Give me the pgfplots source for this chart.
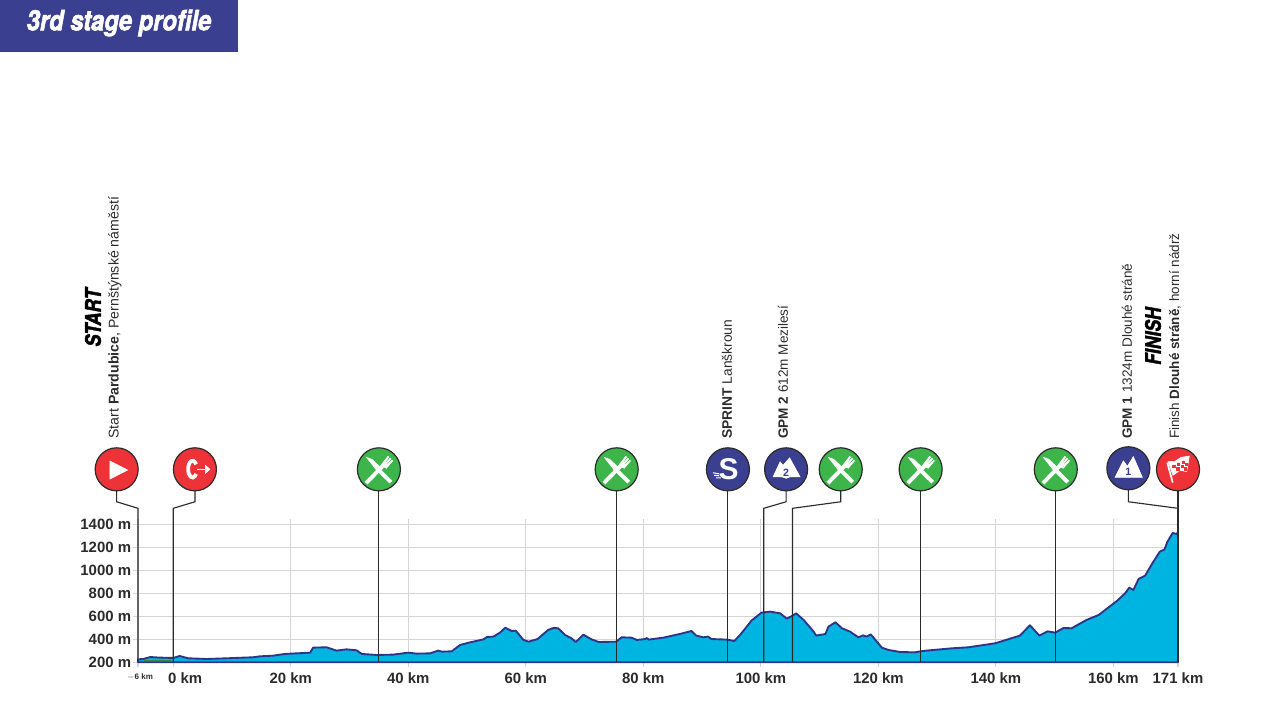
\documentclass[border=0pt]{standalone}
\usepackage{graphicx}
\usepackage{fontspec}
\setmainfont{Liberation Sans}
\newfontfamily\heavy[BoldItalicFeatures={FakeBold=2.2}]{TeX Gyre Heros}
\usepackage{pgfplots}
\pgfplotsset{compat=1.18}
\usetikzlibrary{plotmarks}
\definecolor{navy}{HTML}{3B3F8F}
\definecolor{linenavy}{HTML}{2F3488}
\definecolor{rred}{HTML}{EE3338}
\definecolor{ggreen}{HTML}{3DB54A}
\definecolor{sky}{HTML}{00B4E1}
\definecolor{ink}{HTML}{2B2B2B}
\definecolor{gridc}{HTML}{D4D4D4}
\newcommand\iconbase[1]{\path[fill=#1,draw=ink,line width=.9pt,x=.75pt,y=.75pt] (0,0) circle (21.5);}
\pgfdeclareplotmark{iplay}{\iconbase{rred}
  \fill[white,x=.75pt,y=.75pt] (-6.7,8.3)--(-6.7,-9.7)--(11,-.7)--cycle;}
\pgfdeclareplotmark{iexit}{\iconbase{rred}
  \draw[white,line width=2.8pt,x=.75pt,y=.75pt] (1.2,5) arc[start angle=35,end angle=325,x radius=4.4,y radius=8.4];
  \draw[white,line width=1.1pt,x=.75pt,y=.75pt] (2,0)--(12,0);
  \fill[white,x=.75pt,y=.75pt] (10.5,4)--(15,0)--(10.5,-4)--cycle;}
\pgfdeclareplotmark{ifood}{\iconbase{ggreen}
  \begin{scope}[x=.75pt,y=.75pt]
  \draw[white,line width=2.9pt] (-2,1)--(12,-12.8);
  \fill[white] (-12.5,12)--(-7,10)--(2,1.5)--(-1,-2.5)--cycle;
  \draw[white,line width=2.9pt] (-12.8,-13.8)--(5,4.5);
  \fill[white] (2,4)--(9,13)--(10,12.2)--(6,6.8)--(6.8,6.2)--(11.2,11.2)--(12,10.4)--(7.6,5.4)--(8.4,4.8)--(13.2,9.2)--(13.8,8.4)--(7.5,1)--cycle;
  \end{scope}}
\pgfdeclareplotmark{isprint}{\iconbase{navy}
  \node[white,inner sep=0pt,font=\fontsize{22.5}{22.5}\selectfont\bfseries] at (0.6pt,0pt) {S};
  \draw[white,line width=.8pt,x=.75pt,y=.75pt] (-15,-3.5)--(-9,-4.5) (-14,-6)--(-8.5,-6.5) (-12,-8.5)--(-7,-8.5);}
\pgfdeclareplotmark{igpmtwo}{\iconbase{navy}
  \fill[white,x=.75pt,y=.75pt] (-13,-7.5)--(-6,7.5)--(-3,4)--(3.5,11.5)--(14,-7.5)--(4,-7.5)--(0,-9)--(-4,-7.5)--cycle;
  \node[navy,inner sep=0pt,font=\fontsize{8}{8}\selectfont\bfseries] at (0pt,-2.4pt) {2};}
\pgfdeclareplotmark{igpmone}{\iconbase{navy}
  \fill[white,x=.75pt,y=.75pt] (-13.3,-9)--(-5,7.5)--(-1,2)--(5,11.7)--(14,-9)--cycle;
  \node[navy,inner sep=0pt,font=\fontsize{8}{8}\selectfont\bfseries] at (0pt,-2.8pt) {1};}
\pgfdeclareplotmark{iflag}{\iconbase{rred}
  \begin{scope}[x=.75pt,y=.75pt]
  \draw[white,line width=1.3pt] (-5.3,-13.3)--(-10.7,6.7);
  \fill[white] (-10,7.7)--(-3,8)--(3,12)--(11.3,13.3)--(8.7,-2.3)--(2,-1)--(-5,-6)--cycle;
  \fill[rred] (-5.5,4) rectangle (-3,1.6) (-1,6.5) rectangle (1.5,4) (4,8.5) rectangle (6.5,6)
     (-1.5,1.6) rectangle (1,-.8) (3,4) rectangle (5.5,1.6) (7,6) rectangle (9.5,3.6) (6,1.6) rectangle (8.4,-.8);
  \end{scope}}
\begin{document}
\begin{tikzpicture}[x=.75pt,y=-.75pt]
\useasboundingbox (0,0) rectangle (1280,720);
\fill[navy] (0,0) rectangle (238,52);
\begin{axis}[
  at={(103.5pt,-496.725pt)},
  anchor=south west,
  scale only axis, width=780pt, height=107.5pt,
  xmin=-6, xmax=171, ymin=200, ymax=1450,
  clip=false,
  axis x line*=bottom, axis y line*=left,
  axis line style={draw=none},
  xtick={0,20,40,60,80,100,120,140,160,171},
  xticklabels={\hspace*{18pt}0 km,20 km,40 km,60 km,80 km,100 km,120 km,140 km,160 km,171 km},
  extra x ticks={-6},
  extra x tick labels={$-$6 km},
  extra x tick style={xticklabel style={font=\fontsize{6}{6}\selectfont\bfseries,yshift=-.25pt,xshift=1.5pt}},
  ytick={200,400,600,800,1000,1200,1400},
  yticklabels={200 m,400 m,600 m,800 m,1000 m,1200 m,1400 m},
  xmajorgrids, ymajorgrids,
  grid style={gridc,line width=.85pt},
  major tick style={gridc,line width=.85pt},
  tick align=outside,
  major tick length=3.5pt,
  ticklabel style={font=\fontsize{11.2}{13}\selectfont\bfseries,text=ink,inner sep=0pt},
  xticklabel style={yshift=-4.25pt},
  yticklabel style={xshift=-1.5pt},
]
\addplot[fill=sky,draw=linenavy,line width=1.4pt,line join=round] coordinates {
(-6,200)(-6,226)(-5.1,229)(-3.9,246)(-2.3,241)(0,238)(1.1,255)(2.55,235)(5.7,229)(9.1,235)(13.6,244)(14.75,252)(17,258)(19,273)(23.3,284)(23.8,328)(26.1,331)(27.8,302)(29.5,313)(31.2,305)(32.1,273)(34.6,264)(37.4,267)(40,284)(41.4,276)(43.7,278)(45.1,302)(45.7,293)(47.4,296)(48.8,351)(50.5,374)(52.8,400)(53.4,421)(54.5,424)(55.6,459)(56.5,502)(57.6,473)(58.3,476)(59.6,395)(60.5,380)(62,403)(63.8,482)(64.7,499)(65.5,497)(66.7,438)(67.8,409)(68.5,377)(69.8,441)(71.2,400)(72.4,377)(75.4,380)(76.3,418)(78,415)(78.9,395)(80.3,403)(80.6,412)(80.9,398)(83.4,415)(86.2,447)(88.2,473)(89,433)(90.2,418)(91,424)(91.6,403)(94.2,398)(95.5,386)(96.7,453)(98.4,563)(100.1,633)(101.6,642)(103.3,627)(104.4,581)(105.3,604)(106,627)(107.3,569)(109,467)(109.4,433)(111,447)(111.5,511)(112.7,549)(113.8,497)(115.2,467)(116.6,418)(117.4,435)(118,424)(118.7,444)(120.6,328)(121.7,308)(123.7,290)(126.2,287)(127.2,296)(128.2,302)(132.5,322)(135.3,331)(139.9,366)(144.1,433)(145.8,523)(147.4,433)(148.8,470)(150.1,459)(151.5,499)(152.9,497)(155.4,569)(157.5,613)(160.6,735)(162,802)(162.7,851)(163.4,831)(164.3,927)(165.4,956)(166.7,1069)(167.9,1165)(168.7,1185)(169.2,1252)(170.1,1328)(170.8,1319)(171,1340)(171,200)
} --cycle;
\addplot[ggreen!80!black,line width=.9pt] coordinates {(-5,213)(-0.4,213)};
% connector lines
\pgfplotsset{conn/.style={ink,line width=.85pt,forget plot}}
\addplot[conn] coordinates {(-9.63,1883)(-9.63,1600)(-6,1543)(-6,200)};
\addplot[conn] coordinates {(3.69,1883)(3.69,1600)(0,1543)(0,200)};
\addplot[conn] coordinates {(35,1883)(35,200)};
\addplot[conn] coordinates {(75.47,1883)(75.47,200)};
\addplot[conn] coordinates {(94.4,1883)(94.4,200)};
\addplot[conn] coordinates {(104.3,1883)(104.3,1600)(100.5,1543)(100.5,200)};
\addplot[conn] coordinates {(113.6,1883)(113.6,1600)(105.4,1543)(105.4,200)};
\addplot[conn] coordinates {(127.2,1883)(127.2,200)};
\addplot[conn] coordinates {(150.2,1883)(150.2,200)};
\addplot[conn] coordinates {(162.55,1892)(162.55,1600)(171,1543)};
\addplot[conn] coordinates {(171,1883)(171,200)};
% icons
\pgfplotsset{icon/.style={only marks,mark=#1,forget plot}}
\addplot[icon=iplay] coordinates {(-9.63,1883)};
\addplot[icon=iexit] coordinates {(3.69,1883)};
\addplot[icon=ifood] coordinates {(35,1883)(75.47,1883)(113.6,1883)(127.2,1883)(150.2,1883)};
\addplot[icon=isprint] coordinates {(94.4,1883)};
\addplot[icon=igpmtwo] coordinates {(104.3,1883)};
\addplot[icon=igpmone] coordinates {(162.55,1892)};
\addplot[icon=iflag] coordinates {(171,1883)};
\end{axis}
\node[inner sep=0pt,white] at (119,23) {\heavy\bfseries\itshape\fontsize{21}{21}\selectfont\scalebox{.85}[1]{3rd stage profile}};
\node[inner sep=0pt,anchor=south,text=ink] at (115,439) {\rotatebox{90}{\fontsize{10.6}{12}\selectfont Start \textbf{Pardubice}, Pernštýnské náměstí}};
\node[inner sep=0pt,anchor=south,text=ink] at (727,439) {\rotatebox{90}{\fontsize{10.35}{12}\selectfont \textbf{SPRINT} Lanškroun}};
\node[inner sep=0pt,anchor=south,text=ink] at (783,439) {\rotatebox{90}{\fontsize{10.15}{12}\selectfont \textbf{GPM 2} 612m Mezilesí}};
\node[inner sep=0pt,anchor=south,text=ink] at (1127,439) {\rotatebox{90}{\fontsize{10.15}{12}\selectfont \textbf{GPM 1} 1324m Dlouhé stráně}};
\node[inner sep=0pt,anchor=south,text=ink] at (1175,439) {\rotatebox{90}{\fontsize{10.1}{12}\selectfont Finish \textbf{Dlouhé stráně}, horní nádrž}};
\node[inner sep=0pt,anchor=south,text=black] at (93,347) {\rotatebox{90}{\heavy\bfseries\itshape\fontsize{16}{16}\selectfont\scalebox{.85}[1]{START}}};
\node[inner sep=0pt,anchor=south,text=black] at (1153,365) {\rotatebox{90}{\heavy\bfseries\itshape\fontsize{16}{16}\selectfont\scalebox{.82}[1]{FINISH}}};
\end{tikzpicture}
\end{document}
